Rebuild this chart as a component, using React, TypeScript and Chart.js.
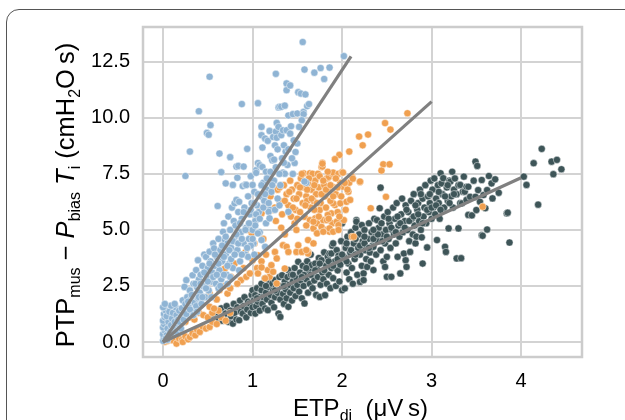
import React, { useEffect, useRef } from "react";
import { Chart, registerables } from "chart.js";

Chart.register(...registerables);

type Pt = [number, number];

// Axis ticks
const xTicks = [0, 1, 2, 3, 4];
const yTicks = [0, 2.5, 5, 7.5, 10, 12.5];

// Light blue group
const groupA: Pt[] = [
  [0.0, 0.05], [0.01, 0.2], [0.0, 0.35], [0.02, 0.5], [0.0, 0.65], [0.01, 0.8], [0.0, 0.95], [0.02, 1.1],
  [0.01, 1.25], [0.03, 1.4], [0.0, 1.55], [0.04, 0.3], [0.05, 0.6], [0.06, 0.9], [0.04, 1.15], [0.07, 1.35],
  [0.08, 0.45], [0.09, 0.75], [0.1, 1.05], [0.11, 1.3], [0.12, 0.6], [0.13, 0.9], [0.14, 1.55], [0.15, 1.2],
  [0.16, 0.8], [0.17, 1.0], [0.18, 1.4], [0.19, 0.65], [0.03, 0.15], [0.06, 0.2], [0.09, 1.62], [0.13, 1.7],
  [0.02, 1.7], [0.2, 1.1], [0.21, 1.5], [0.22, 1.86], [0.22, 0.9], [0.24, 2.46], [0.24, 1.3], [0.25, 1.7],
  [0.26, 2.76], [0.27, 2.0], [0.28, 1.2], [0.29, 1.55], [0.3, 2.3], [0.31, 1.9], [0.33, 2.98], [0.33, 1.4],
  [0.34, 2.6], [0.35, 1.75], [0.36, 2.1], [0.37, 3.21], [0.37, 1.6], [0.38, 2.45], [0.39, 3.65], [0.39, 1.95],
  [0.4, 2.8], [0.25, 7.41], [0.3, 8.5], [0.4, 10.3], [0.41, 2.2], [0.42, 3.0], [0.43, 1.7], [0.44, 3.4],
  [0.45, 2.5], [0.46, 3.9], [0.47, 2.0], [0.48, 3.8], [0.49, 2.9], [0.5, 3.3], [0.51, 2.3], [0.52, 4.03],
  [0.53, 3.6], [0.54, 2.7], [0.55, 3.1], [0.56, 4.4], [0.57, 4.18], [0.58, 3.4], [0.59, 2.6], [0.6, 3.8],
  [0.49, 9.33], [0.51, 9.25], [0.53, 9.68], [0.52, 11.84], [0.61, 6.07], [0.62, 4.6], [0.63, 3.2], [0.64, 4.1],
  [0.65, 2.8], [0.66, 3.6], [0.67, 4.92], [0.68, 5.3], [0.69, 4.55], [0.7, 3.9], [0.7, 7.08], [0.71, 3.0],
  [0.72, 4.4], [0.73, 5.6], [0.74, 3.5], [0.75, 5.0], [0.76, 4.2], [0.77, 6.0], [0.78, 7.01], [0.78, 3.3],
  [0.79, 5.4], [0.8, 6.19], [0.8, 4.7], [0.63, 8.41], [0.65, 7.58], [0.75, 8.25], [0.82, 6.34], [0.82, 7.83],
  [0.83, 7.33], [0.84, 7.86], [0.85, 6.26], [0.89, 6.96], [0.9, 7.83], [0.92, 7.02], [0.93, 7.01], [0.94, 8.62],
  [0.88, 10.62], [0.81, 5.2], [0.83, 4.1], [0.84, 5.8], [0.86, 3.6], [0.87, 4.9], [0.88, 5.5], [0.9, 4.4],
  [0.91, 6.0], [0.92, 3.9], [0.93, 5.1], [0.95, 6.5], [0.96, 4.6], [0.97, 5.7], [0.98, 7.4], [0.99, 6.2],
  [1.0, 7.01], [1.0, 5.0], [1.02, 6.7], [1.03, 5.4], [1.04, 7.67], [1.04, 7.55], [1.05, 6.1], [1.06, 7.99],
  [1.06, 10.66], [1.07, 5.8], [1.08, 7.89], [1.09, 6.5], [1.1, 9.6], [1.1, 9.23], [1.11, 8.68], [1.11, 7.81],
  [1.12, 7.1], [1.13, 6.3], [1.14, 9.08], [1.15, 7.6], [1.16, 6.8], [1.17, 8.98], [1.18, 7.3], [1.19, 9.42],
  [1.19, 5.9], [1.2, 8.3], [1.01, 4.4], [1.08, 4.9], [1.15, 5.3], [1.22, 8.11], [1.23, 9.15], [1.24, 8.14],
  [1.25, 8.78], [1.26, 9.39], [1.26, 11.97], [1.27, 9.78], [1.27, 9.12], [1.29, 9.6], [1.29, 10.47], [1.3, 10.5],
  [1.32, 10.5], [1.32, 9.23], [1.34, 9.45], [1.34, 7.56], [1.35, 8.78], [1.36, 7.51], [1.36, 10.55], [1.38, 11.54],
  [1.38, 11.24], [1.38, 9.45], [1.4, 10.11], [1.21, 6.7], [1.24, 7.2], [1.28, 6.4], [1.31, 7.0], [1.33, 8.2],
  [1.37, 8.5], [1.39, 7.9], [1.42, 11.45], [1.42, 9.3], [1.43, 9.63], [1.45, 10.17], [1.47, 7.99], [1.48, 8.48],
  [1.5, 10.2], [1.5, 8.86], [1.51, 11.15], [1.54, 11.09], [1.56, 13.39], [1.57, 10.27], [1.57, 10.17], [1.58, 12.16],
  [1.59, 11.05], [1.6, 7.11], [1.44, 8.2], [1.46, 9.0], [1.52, 9.6], [1.55, 9.9], [1.61, 10.53], [1.63, 10.62],
  [1.69, 12.02], [1.76, 12.23], [1.8, 11.74], [1.86, 12.25], [2.02, 12.76], [1.03, 5.2], [1.06, 4.85], [1.1, 4.55],
  [1.14, 4.25], [1.18, 5.81], [1.19, 5.52], [1.25, 5.9], [1.3, 6.1], [1.4, 5.81], [1.58, 7.16], [0.95, 3.8],
  [0.98, 4.3], [1.02, 3.9], [0.85, 3.2], [0.88, 3.9], [0.75, 2.9], [0.72, 2.6], [0.68, 3.0], [0.62, 2.4],
  [0.05, 0.1], [0.08, 0.25], [0.12, 0.35], [0.15, 0.45], [0.18, 0.9], [0.2, 0.6], [0.23, 1.0], [0.26, 1.25],
  [0.28, 1.8], [0.3, 1.45], [0.32, 2.1], [0.34, 1.2], [0.36, 2.6], [0.38, 1.35], [0.4, 2.0], [0.42, 2.6],
  [0.44, 2.0], [0.46, 3.1], [0.48, 2.4], [0.5, 2.7], [0.52, 3.5], [0.54, 2.0], [0.56, 2.9], [0.58, 3.9],
  [0.6, 3.0], [0.62, 3.5], [0.64, 2.5], [0.66, 4.3], [0.68, 3.8], [0.7, 4.7], [0.72, 3.4], [0.74, 4.1],
  [0.76, 3.7], [0.78, 4.5], [0.8, 3.9], [0.82, 4.8], [0.84, 4.4], [0.86, 5.3], [0.88, 4.6], [0.9, 5.8],
  [0.92, 5.0], [0.94, 4.2], [0.96, 5.3], [0.98, 5.9], [1.0, 4.6], [1.02, 6.2], [1.04, 5.7], [1.06, 6.6],
  [1.08, 5.5], [1.1, 7.0], [1.12, 6.0], [1.14, 6.6], [1.16, 7.3], [1.18, 6.2], [1.2, 7.6], [1.22, 7.0],
  [1.26, 7.8], [1.28, 8.6], [1.3, 7.5], [1.35, 8.0], [1.4, 8.6], [1.45, 7.5],
];

// Orange group
const groupB: Pt[] = [
  [0.02, 0.0], [0.05, 0.05], [0.08, 0.1], [0.11, 0.08], [0.15, -0.07], [0.18, 0.15], [0.21, 0.08], [0.22, 0.0],
  [0.25, 0.25], [0.28, 0.12], [0.3, 0.22], [0.33, 0.38], [0.36, 0.3], [0.38, 0.55], [0.41, 0.45], [0.44, 0.7],
  [0.48, 0.6], [0.52, 0.67], [0.55, 0.9], [0.05, 0.3], [0.1, 0.45], [0.14, 0.6], [0.18, 0.5], [0.2, 0.8],
  [0.25, 0.9], [0.3, 1.1], [0.35, 1.0], [0.4, 1.3], [0.45, 1.2], [0.6, 0.8], [0.65, 1.1], [0.7, 0.95],
  [0.75, 1.3], [0.62, 1.4], [0.5, 1.1], [0.55, 1.3], [0.52, 1.57], [0.57, 1.49], [0.52, 2.16], [0.63, 2.31],
  [0.72, 2.16], [0.65, 3.21], [0.69, 3.28], [0.76, 2.91], [0.87, 2.76], [0.93, 2.91], [0.97, 3.06], [1.0, 3.65],
  [1.06, 3.87], [1.08, 5.97], [1.1, 5.74], [0.99, 4.85], [0.95, 5.0], [0.6, 1.9], [0.68, 2.5], [0.75, 2.4],
  [0.8, 3.5], [0.83, 2.6], [0.9, 3.3], [0.92, 4.0], [1.02, 4.4], [1.05, 3.3], [1.1, 3.6], [1.12, 4.6],
  [1.15, 3.9], [1.17, 3.21], [1.19, 2.91], [1.14, 2.84], [1.06, 3.06], [1.1, 3.33], [1.21, 3.43], [1.25, 4.02],
  [1.27, 3.73], [1.23, 3.13], [1.27, 2.61], [1.36, 3.28], [1.34, 4.32], [1.38, 4.25], [1.4, 4.02], [1.49, 4.02],
  [1.51, 4.32], [1.55, 4.02], [1.62, 4.02], [1.62, 3.95], [1.6, 4.1], [1.62, 4.55], [1.68, 4.4], [1.47, 5.3],
  [1.49, 5.0], [1.58, 5.59], [1.64, 5.44], [1.68, 5.07], [1.7, 5.52], [1.72, 5.3], [1.77, 5.14], [1.79, 5.44],
  [1.83, 5.0], [1.86, 4.92], [1.88, 5.74], [1.84, 5.67], [1.89, 5.3], [1.94, 5.37], [1.96, 5.22], [1.92, 6.11],
  [1.98, 6.19], [2.11, 4.7], [1.72, 4.85], [1.79, 4.92], [1.86, 5.07], [1.9, 4.92], [1.96, 5.0], [1.83, 5.44],
  [1.68, 5.37], [1.75, 5.89], [1.9, 6.19], [2.05, 6.26], [2.13, 4.7], [2.02, 5.44], [1.15, 6.2], [1.2, 6.5],
  [1.22, 5.9], [1.28, 6.8], [1.3, 6.3], [1.33, 5.7], [1.35, 7.0], [1.38, 6.6], [1.4, 6.1], [1.42, 7.2],
  [1.44, 6.8], [1.46, 6.4], [1.48, 5.9], [1.5, 7.0], [1.52, 6.6], [1.54, 7.3], [1.56, 6.2], [1.57, 7.53],
  [1.58, 6.9], [1.6, 6.5], [1.62, 7.1], [1.64, 7.53], [1.65, 6.0], [1.66, 6.8], [1.67, 7.51], [1.68, 6.3],
  [1.7, 7.2], [1.71, 6.6], [1.73, 7.51], [1.74, 6.9], [1.76, 6.2], [1.77, 7.81], [1.78, 8.0], [1.78, 7.83],
  [1.78, 7.96], [1.8, 7.0], [1.81, 6.5], [1.83, 7.3], [1.85, 7.37], [1.85, 6.8], [1.87, 6.3], [1.89, 7.51],
  [1.9, 7.56], [1.91, 6.9], [1.93, 6.6], [1.96, 7.51], [1.97, 8.35], [1.98, 7.1], [2.0, 7.58], [2.01, 6.93],
  [2.01, 7.56], [2.07, 6.71], [2.08, 7.11], [2.09, 6.34], [2.11, 7.38], [2.12, 7.29], [2.2, 7.14], [2.2, 7.16],
  [1.92, 8.16], [2.08, 8.5], [2.19, 9.17], [2.29, 9.26], [2.23, 8.78], [2.48, 9.77], [2.54, 9.48], [2.73, 10.21],
  [2.46, 7.93], [2.53, 7.93], [2.44, 7.65], [2.49, 6.48], [2.32, 5.97], [3.57, 6.04], [1.26, 5.4], [1.32, 5.1],
  [1.36, 4.8], [1.43, 5.6], [1.53, 5.8], [1.61, 6.3], [1.69, 5.9], [1.82, 6.0], [1.95, 5.8], [2.04, 5.9],
  [1.25, 6.0], [1.3, 6.9], [1.36, 6.3], [1.41, 6.7], [1.45, 6.0], [1.49, 6.4], [1.53, 6.9], [1.55, 7.5],
  [1.59, 6.1], [1.61, 6.8], [1.63, 7.3], [1.66, 6.4], [1.69, 7.0], [1.72, 6.2], [1.75, 7.4], [1.77, 6.6],
  [1.79, 7.2], [1.82, 6.8], [1.84, 7.6], [1.87, 7.0], [1.9, 6.5], [1.93, 7.3], [1.95, 6.9], [1.99, 6.5],
  [2.03, 7.1], [2.06, 6.8], [1.5, 5.5], [1.6, 5.2], [1.74, 5.6], [1.85, 5.5], [1.97, 5.6],
];

// Dark slate group
const groupC: Pt[] = [
  [0.52, 1.1], [0.56, 1.27], [0.58, 0.9], [0.6, 1.34], [0.62, 1.05], [0.65, 1.5], [0.66, 0.95], [0.68, 1.2],
  [0.7, 1.27], [0.71, 1.6], [0.73, 0.9], [0.75, 1.4], [0.76, 1.15], [0.78, 0.82], [0.79, 1.7], [0.8, 1.3],
  [0.82, 1.0], [0.83, 1.55], [0.85, 0.97], [0.86, 1.85], [0.87, 1.35], [0.89, 1.27], [0.9, 1.6], [0.91, 2.0],
  [0.93, 1.1], [0.94, 1.45], [0.95, 1.8], [0.97, 1.72], [0.98, 1.3], [0.99, 2.1], [1.0, 2.31], [1.0, 1.55],
  [1.02, 1.9], [1.03, 2.09], [1.03, 1.27], [1.04, 1.6], [1.05, 2.4], [1.06, 1.8], [1.08, 2.01], [1.08, 1.4],
  [1.1, 2.31], [1.1, 2.6], [1.11, 1.7], [1.12, 2.0], [1.14, 2.84], [1.14, 1.5], [1.15, 2.2], [1.16, 1.9],
  [1.17, 1.42], [1.18, 2.76], [1.18, 2.45], [1.2, 2.1], [1.21, 1.75], [1.22, 2.6], [1.23, 2.3], [1.24, 1.55],
  [1.25, 2.76], [1.25, 2.0], [1.26, 2.45], [1.28, 2.2], [1.29, 1.27], [1.3, 2.9], [1.31, 1.12], [1.31, 1.9],
  [1.32, 2.5], [1.33, 2.98], [1.34, 2.15], [1.35, 1.7], [1.36, 2.7], [1.37, 2.35], [1.38, 1.95], [1.39, 2.9],
  [1.4, 3.21], [1.4, 1.57], [1.41, 2.55], [1.42, 2.2], [1.43, 3.0], [1.44, 1.85], [1.45, 2.7], [1.46, 2.4],
  [1.47, 3.3], [1.48, 2.05], [1.49, 2.85], [1.5, 2.55], [1.51, 3.58], [1.52, 2.25], [1.53, 3.1], [1.54, 2.75],
  [1.55, 1.95], [1.56, 3.4], [1.57, 2.5], [1.58, 1.72], [1.58, 3.0], [1.6, 2.8], [1.61, 3.6], [1.62, 2.2],
  [1.63, 3.2], [1.64, 2.6], [1.65, 3.9], [1.66, 3.43], [1.67, 2.4], [1.68, 3.0], [1.69, 2.75], [1.7, 3.5],
  [1.71, 2.1], [1.72, 3.25], [1.73, 2.9], [1.74, 3.75], [1.75, 2.01], [1.76, 2.55], [1.77, 3.65], [1.78, 3.1],
  [1.79, 2.8], [1.8, 4.0], [1.81, 2.09], [1.82, 3.4], [1.83, 2.6], [1.84, 3.8], [1.85, 3.0], [1.86, 3.95],
  [1.87, 2.4], [1.88, 3.95], [1.88, 3.3], [1.89, 4.3], [1.9, 4.4], [1.9, 2.85], [1.92, 3.6], [1.93, 2.5],
  [1.94, 4.1], [1.95, 3.2], [1.96, 3.85], [1.97, 2.7], [1.98, 5.3], [1.98, 3.45], [1.99, 4.5], [2.0, 2.31],
  [2.0, 5.3], [2.02, 3.8], [2.03, 2.39], [2.04, 4.2], [2.05, 3.1], [2.06, 4.7], [2.07, 3.5], [2.08, 2.8],
  [2.09, 4.0], [2.1, 4.9], [2.11, 3.3], [2.12, 2.6], [2.13, 4.4], [2.14, 3.7], [2.15, 5.1], [2.16, 5.44],
  [2.16, 5.37], [2.17, 3.0], [2.18, 4.2], [2.19, 4.8], [2.2, 2.68], [2.2, 3.9], [2.22, 5.22], [2.22, 3.4],
  [2.23, 4.5], [2.24, 3.06], [2.24, 2.76], [2.25, 5.0], [2.26, 4.1], [2.27, 3.7], [2.28, 3.35], [2.29, 4.6],
  [2.3, 5.3], [2.31, 4.0], [2.32, 3.6], [2.33, 4.9], [2.34, 4.3], [2.35, 3.21], [2.35, 4.25], [2.36, 5.5],
  [2.37, 4.7], [2.38, 3.9], [2.39, 5.44], [2.4, 4.5], [2.41, 5.1], [2.42, 5.97], [2.43, 4.1], [2.43, 6.89],
  [2.44, 5.3], [2.45, 4.8], [2.46, 3.6], [2.47, 5.6], [2.48, 3.35], [2.48, 4.4], [2.49, 5.0], [2.5, 3.8],
  [2.5, 2.91], [2.51, 5.8], [2.52, 4.6], [2.53, 5.3], [2.54, 4.2], [2.55, 2.91], [2.56, 5.0], [2.57, 6.0],
  [2.58, 4.8], [2.59, 5.5], [2.6, 4.4], [2.61, 6.2], [2.62, 3.8], [2.63, 5.2], [2.64, 4.7], [2.65, 3.06],
  [2.66, 5.7], [2.67, 6.4], [2.68, 4.9], [2.69, 3.95], [2.7, 5.4], [2.71, 3.65], [2.71, 6.1], [2.72, 3.35],
  [2.73, 5.0], [2.74, 5.8], [2.75, 4.5], [2.76, 4.02], [2.77, 6.3], [2.78, 5.5], [2.79, 4.8], [2.8, 6.6],
  [2.81, 5.2], [2.82, 4.4], [2.83, 4.7], [2.84, 5.9], [2.85, 6.2], [2.86, 5.4], [2.87, 6.8], [2.88, 5.0],
  [2.89, 4.67], [2.9, 3.5], [2.9, 6.4], [2.91, 5.6], [2.92, 6.0], [2.93, 7.0], [2.94, 5.3], [2.95, 4.22],
  [2.96, 6.5], [2.97, 5.8], [2.98, 6.2], [2.99, 7.2], [3.0, 5.5], [3.01, 6.8], [3.02, 6.0], [3.03, 7.3],
  [3.04, 5.7], [3.05, 6.4], [3.06, 4.55], [3.07, 7.0], [3.08, 6.2], [3.09, 5.5], [3.1, 7.53], [3.11, 7.08],
  [3.12, 6.6], [3.13, 7.31], [3.14, 6.0], [3.15, 4.25], [3.16, 4.02], [3.17, 6.9], [3.18, 6.3], [3.19, 5.07],
  [3.2, 7.2], [3.21, 7.16], [3.22, 6.5], [3.23, 7.6], [3.24, 6.0], [3.25, 6.8], [3.26, 7.3], [3.28, 3.73],
  [3.28, 6.6], [3.3, 5.07], [3.3, 7.0], [3.32, 7.01], [3.32, 6.2], [3.33, 3.74], [3.34, 6.19], [3.35, 6.71],
  [3.36, 7.38], [3.37, 6.71], [3.39, 6.93], [3.39, 6.34], [3.41, 6.93], [3.41, 5.67], [3.43, 6.48], [3.45, 5.65],
  [3.47, 7.2], [3.49, 8.05], [3.49, 6.48], [3.5, 5.89], [3.51, 7.86], [3.52, 6.78], [3.54, 6.26], [3.56, 7.23],
  [3.56, 4.77], [3.57, 4.74], [3.58, 6.56], [3.6, 5.97], [3.62, 6.78], [3.62, 5.02], [3.64, 7.41], [3.67, 7.08],
  [3.68, 6.41], [3.71, 7.26], [3.75, 6.66], [3.84, 5.74], [3.85, 5.77], [3.87, 4.44], [4.03, 7.38], [4.06, 7.01],
  [4.14, 7.98], [4.19, 6.13], [4.23, 8.62], [4.34, 8.05], [4.36, 7.49], [4.4, 8.13], [4.45, 7.71],
  [1.05, 1.95], [1.15, 2.5], [1.25, 2.3], [1.35, 2.5], [1.45, 3.0], [1.55, 2.9], [1.6, 3.3], [1.65, 3.0],
  [1.7, 3.2], [1.75, 3.5], [1.8, 3.2], [1.85, 3.6], [1.9, 3.4], [1.95, 3.7], [2.0, 3.9], [2.05, 3.6],
  [2.1, 4.1], [2.15, 3.9], [2.2, 4.3], [2.25, 4.4], [2.3, 4.2], [2.35, 4.6], [2.4, 4.8], [2.45, 4.5],
  [2.5, 4.7], [2.55, 5.1], [2.6, 4.9], [2.65, 5.3], [2.7, 5.1], [2.75, 5.4], [2.8, 5.6], [2.85, 5.7],
  [2.9, 5.3], [2.95, 5.9], [3.0, 6.0], [3.05, 6.1], [3.1, 5.9], [3.15, 6.5], [3.2, 6.2], [3.25, 6.6],
  [2.52, 5.5], [2.62, 5.6], [2.72, 5.9], [2.82, 6.1], [2.88, 6.6], [2.98, 6.6], [3.08, 6.7], [3.18, 7.0],
  [2.35, 5.0], [2.25, 4.7], [2.15, 4.6], [2.05, 4.4],
];

// Fitted lines through the origin: end points
const fitEndA: Pt = [2.1, 12.75];
const fitEndB: Pt = [3.0, 10.73];
const fitEndC: Pt = [4.0, 7.33];

const FONT = '"Liberation Sans", Arial, sans-serif';

type Run = { t: string; size: number; italic?: boolean; dy?: number };

const xTitle: Run[] = [
  { t: "ETP", size: 24 },
  { t: "di", size: 16, dy: 5 },
  { t: "  (\u03bcV\u2009s)", size: 24 },
];

const yTitle: Run[] = [
  { t: "PTP", size: 25.5 },
  { t: "mus", size: 16, dy: 6 },
  { t: " \u2212 ", size: 25.5 },
  { t: "P", size: 25.5, italic: true },
  { t: "bias", size: 16, dy: 6 },
  { t: " ", size: 25.5 },
  { t: "T", size: 25.5, italic: true },
  { t: "i", size: 16, dy: 6 },
  { t: " (cmH", size: 25.5 },
  { t: "2", size: 16, dy: 6 },
  { t: "O\u2009s)", size: 25.5 },
];

function drawRuns(ctx: CanvasRenderingContext2D, runs: Run[]) {
  const fontOf = (r: Run) => `${r.italic ? "italic " : ""}${r.size}px ${FONT}`;
  const widths = runs.map((r) => {
    ctx.font = fontOf(r);
    return ctx.measureText(r.t).width;
  });
  const total = widths.reduce((a, b) => a + b, 0);
  let x = -total / 2;
  runs.forEach((r, i) => {
    ctx.font = fontOf(r);
    ctx.fillText(r.t, x, r.dy || 0);
    x += widths[i];
  });
}

const framePlugin = {
  id: "plotFrame",
  beforeDatasetsDraw(chart: any) {
    const { ctx, chartArea: a } = chart;
    ctx.save();
    ctx.strokeStyle = "#cccccc";
    ctx.lineWidth = 2.5;
    ctx.strokeRect(a.left, a.top, a.right - a.left, a.bottom - a.top);
    ctx.restore();
  },
};

const titlePlugin = {
  id: "axisTitles",
  afterDraw(chart: any) {
    const { ctx, chartArea: a } = chart;
    ctx.save();
    ctx.fillStyle = "#000";
    ctx.textAlign = "left";
    ctx.textBaseline = "alphabetic";
    ctx.save();
    ctx.translate((a.left + a.right) / 2 - 2, 416);
    drawRuns(ctx, xTitle);
    ctx.restore();
    ctx.save();
    ctx.translate(73.5, 195);
    ctx.rotate(-Math.PI / 2);
    drawRuns(ctx, yTitle);
    ctx.restore();
    ctx.restore();
  },
};

const scatterSet = (pts: Pt[], color: string, order: number) => ({
  type: "scatter" as const,
  data: pts.map(([x, y]) => ({ x, y })),
  backgroundColor: color,
  borderColor: "rgba(255,255,255,0.75)",
  borderWidth: 0.6,
  pointRadius: 3.6,
  order,
});

const fitSet = (end: Pt) => ({
  type: "line" as const,
  data: [
    { x: 0, y: 0 },
    { x: end[0], y: end[1] },
  ],
  borderColor: "#808080",
  borderWidth: 3.2,
  pointRadius: 0,
  fill: false,
  order: 0,
});

export default function App() {
  const ref = useRef<HTMLCanvasElement | null>(null);

  useEffect(() => {
    if (!ref.current) return;
    const tickFont = { family: FONT, size: 20 };
    const chart = new Chart(ref.current, {
      type: "scatter",
      data: {
        datasets: [
          fitSet(fitEndA),
          fitSet(fitEndB),
          fitSet(fitEndC),
          scatterSet(groupA, "#8fb4d4", 1),
          scatterSet(groupB, "#f0a050", 2),
          scatterSet(groupC, "#3e5558", 3),
        ] as any,
      },
      options: {
        responsive: false,
        animation: false,
        events: [],
        layout: { padding: { left: 0, top: 27, right: 43, bottom: 0 } },
        plugins: { legend: { display: false }, tooltip: { enabled: false } },
        scales: {
          x: {
            type: "linear",
            min: -0.224,
            max: 4.68,
            afterBuildTicks: (s: any) => {
              s.ticks = xTicks.map((v) => ({ value: v }));
            },
            afterFit: (s: any) => {
              s.height = 63;
            },
            grid: { color: "#d3d3d3", lineWidth: 2, drawTicks: false },
            border: { display: false },
            ticks: {
              padding: 12,
              color: "#000",
              font: tickFont,
              autoSkip: false,
              maxRotation: 0,
              callback: (v: any) => String(v),
            },
          },
          y: {
            type: "linear",
            min: -0.67,
            max: 14.06,
            afterBuildTicks: (s: any) => {
              s.ticks = yTicks.map((v) => ({ value: v }));
            },
            afterFit: (s: any) => {
              s.width = 143;
            },
            grid: { color: "#d3d3d3", lineWidth: 2, drawTicks: false },
            border: { display: false },
            ticks: {
              padding: 13,
              color: "#000",
              font: tickFont,
              autoSkip: false,
              callback: (v: any) => Number(v).toFixed(1),
            },
          },
        },
      },
      plugins: [framePlugin, titlePlugin],
    });
    return () => chart.destroy();
  }, []);

  return (
    <div style={{ position: "fixed", left: 0, top: 0, width: 625, height: 420, background: "#fff", overflow: "hidden" }}>
      <div
        style={{
          position: "absolute",
          left: 6,
          top: 9,
          width: 640,
          height: 440,
          border: "1.5px solid #555",
          borderTopLeftRadius: 13,
          boxSizing: "border-box",
        }}
      />
      <canvas ref={ref} width={625} height={420} style={{ position: "absolute", left: 0, top: 0 }} />
    </div>
  );
}
